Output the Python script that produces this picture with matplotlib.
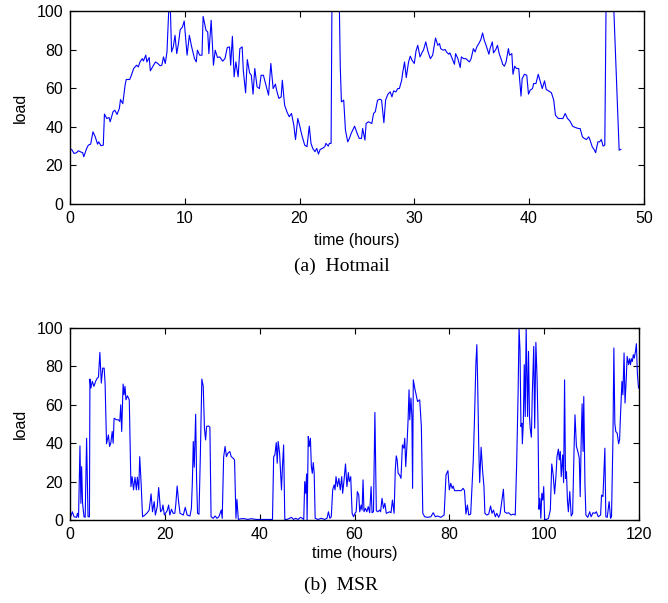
import matplotlib
matplotlib.use("Agg")
import matplotlib.pyplot as plt
import numpy as np

# Hotmail trace (hours, load)
hot_t = [0.14, 0.35, 0.58, 0.72, 0.92, 1.1, 1.2, 1.45, 1.6, 1.8, 2.0, 2.2, 2.4, 2.5, 2.7, 2.9,
         3.0, 3.2, 3.4, 3.5, 3.75, 3.9, 4.1, 4.3, 4.4, 4.6, 4.8, 4.9, 5.2, 5.35, 5.55, 5.8,
         5.95, 6.1, 6.3, 6.4, 6.6, 6.7, 6.9, 7.0, 7.2, 7.45, 7.65, 7.85, 8.0, 8.15, 8.3, 8.45,
         8.6, 8.75, 8.85, 9.0, 9.15, 9.3, 9.45, 9.6, 9.8, 9.95, 10.2, 10.4, 10.6, 10.85, 11.0,
         11.1, 11.3, 11.5, 11.6, 11.85, 12.0, 12.1, 12.3, 12.5, 12.65, 12.85, 13.05, 13.3,
         13.5, 13.7, 13.9, 14.0, 14.15, 14.3, 14.45, 14.65, 14.8, 15.0, 15.1, 15.3, 15.45,
         15.65, 15.8, 15.95, 16.1, 16.3, 16.5, 16.65, 16.85, 17.0, 17.15, 17.3, 17.5, 17.7,
         17.9, 18.0, 18.2, 18.4, 18.5, 18.7, 18.9, 19.1, 19.3, 19.5, 19.65, 19.85, 20.0, 20.2,
         20.45, 20.65, 20.85, 21.0, 21.15, 21.35, 21.5, 21.65, 21.8, 22.0, 22.2, 22.3, 22.5,
         22.6, 22.75, 22.85, 23.4, 23.55, 23.65, 23.85, 24.0, 24.2, 24.35, 24.5, 24.8, 25.0,
         25.2, 25.4, 25.5, 25.7, 25.8, 26.0, 26.3, 26.45, 26.6, 26.8, 27.0, 27.15, 27.35, 27.5,
         27.7, 27.9, 28.05, 28.2, 28.4, 28.55, 28.7, 28.9, 29.0, 29.15, 29.3, 29.5, 29.65, 29.8,
         30.0, 30.15, 30.3, 30.5, 30.7, 30.8, 31.0, 31.2, 31.4, 31.6, 31.85, 32.05, 32.2, 32.3,
         32.5, 32.7, 32.8, 33.0, 33.1, 33.3, 33.5, 33.6, 33.8, 34.0, 34.1, 34.3, 34.5, 34.8,
         34.95, 35.15, 35.3, 35.45, 35.65, 35.8, 35.95, 36.1, 36.3, 36.5, 36.6, 36.8, 36.9,
         37.1, 37.25, 37.4, 37.6, 37.7, 37.85, 38.0, 38.2, 38.3, 38.5, 38.6, 38.75, 38.9, 39.1,
         39.3, 39.4, 39.6, 39.8, 39.95, 40.1, 40.3, 40.4, 40.6, 40.8, 40.95, 41.15, 41.35, 41.5,
         41.7, 41.95, 42.15, 42.3, 42.55, 42.8, 42.95, 43.15, 43.35, 43.55, 43.8, 44.0, 44.3,
         44.45, 44.65, 44.8, 45.0, 45.2, 45.3, 45.5, 45.7, 45.8, 46.0, 46.15, 46.3, 46.45, 46.6,
         46.75, 47.2, 47.85, 48.0]
hot_load = [28.3, 26.2, 26.6, 27.6, 27.0, 26.6, 24.5, 28.8, 30.5, 31.0, 37.4, 34.8, 31.0, 32.2, 30.2, 30.5,
            46.6, 44.3, 44.8, 42.6, 47.8, 48.6, 46.4, 49.5, 54.1, 52.0, 61.6, 64.5, 64.5, 66.7, 70.2, 71.9,
            71.0, 73.6, 75.3, 74.1, 77.1, 73.6, 75.9, 69.0, 71.0, 73.6, 72.8, 71.6, 71.9, 76.2, 72.8, 78.8,
            100, 100, 78.8, 81.4, 87.4, 77.9, 83.1, 90.3, 91.7, 94.8, 77.1, 87.4, 81.4, 75.3, 73.6,
            79.7, 77.1, 77.1, 97.2, 90.0, 89.1, 77.9, 95.2, 71.9, 79.7, 75.9, 76.2, 74.0,
            75.3, 81.0, 81.4, 71.9, 86.9, 65.9, 73.6, 65.9, 80.5, 81.4, 69.3, 57.6, 74.8,
            67.9, 66.7, 56.9, 70.2, 60.7, 59.8, 66.7, 66.7, 63.3, 59.8, 56.4, 72.8, 59.8,
            62.1, 59.0, 54.7, 55.5, 64.1, 51.2, 47.8, 45.2, 46.9, 40.9, 33.4, 44.3, 40.9, 35.7,
            30.5, 29.7, 40.3, 31.4, 28.8, 27.1, 28.8, 25.9, 28.3, 28.8, 29.7, 31.4, 30.0,
            31.4, 31.4, 130, 130, 71.0, 52.9, 53.8, 38.3, 32.2, 34.0, 36.6, 40.3, 36.9,
            34.0, 34.0, 39.1, 33.1, 41.7, 42.6, 41.7, 46.9, 47.8, 53.8, 54.3, 53.8, 42.1, 53.8,
            56.9, 58.1, 55.5, 58.6, 58.1, 59.8, 59.8, 64.1, 68.4, 73.6, 65.5, 73.6, 76.6, 74.5,
            72.8, 79.3, 82.2, 76.2, 78.8, 79.7, 84.0, 78.8, 75.3, 77.1, 86.0, 82.2, 83.1, 80.5,
            79.7, 80.0, 78.8, 77.6, 78.3, 75.3, 72.4, 77.9, 75.3, 70.7, 76.2, 75.3, 75.3, 73.6,
            75.3, 80.5, 78.8, 81.4, 83.4, 85.2, 88.6, 84.8, 81.4, 77.6, 80.5, 84.0, 78.3,
            80.0, 82.2, 77.9, 74.5, 72.4, 71.4, 73.6, 80.5, 77.1, 77.9, 67.2, 71.4, 70.2, 70.2,
            55.9, 65.0, 67.2, 66.7, 56.9, 59.0, 59.8, 62.4, 62.4, 67.2, 64.1, 59.8, 63.8, 59.3,
            58.6, 57.6, 53.8, 46.0, 44.3, 44.3, 44.3, 46.9, 44.3, 43.1, 40.3, 39.7, 39.1,
            39.1, 34.8, 34.0, 33.4, 34.8, 33.4, 29.7, 27.9, 26.6, 32.2, 32.2, 33.4, 30.0, 30.5,
            130, 130, 27.9, 28.3]

# MSR trace (hours, load)
msr_t = [0.14, 0.5, 0.85, 1.4, 1.55, 1.8, 2.1, 2.3, 2.45, 2.65, 2.95, 3.2, 3.5, 3.8, 4.1, 4.2,
         4.4, 4.7, 5.05, 5.4, 5.75, 6.0, 6.3, 6.6, 6.9, 7.2, 7.4, 7.7, 8.1, 8.35, 8.6, 8.9, 9.1,
         9.3, 9.8, 10.2, 10.5, 10.7, 10.9, 11.2, 11.4, 11.6, 11.8, 12.1, 12.5, 12.85, 13.1, 13.4,
         13.7, 14.0, 14.2, 14.5, 14.7, 15.0, 15.3, 15.8, 16.3, 16.7, 17.1, 17.4, 17.75, 18.0,
         18.4, 18.7, 19.1, 19.4, 19.6, 19.9, 20.2, 20.5, 20.8, 21.05, 21.4, 21.75, 22.1, 22.3,
         22.6, 22.9, 23.2, 23.5, 23.9, 24.3, 24.7, 25.3, 25.6, 25.8, 26.0, 26.2, 26.5, 26.7,
         26.9, 27.2, 27.5, 27.8, 28.1, 28.35, 28.6, 28.8, 29.2, 29.5, 29.75, 30.2, 30.6, 31.0,
         31.4, 31.9, 32.1, 32.4, 32.7, 33.0, 33.3, 33.7, 34.0, 34.4, 34.7, 35.0, 35.2, 35.5,
         36.1, 36.8, 37.5, 38.2, 39.3, 40.0, 41.4, 42.7, 42.95, 43.2, 43.5, 43.7, 43.9, 44.2,
         44.6, 44.8, 45.05, 45.3, 45.75, 46.3, 46.7, 47.15, 47.6, 48.1, 48.6, 49.0, 49.3, 49.5,
         49.7, 49.9, 50.0, 50.25, 50.45, 50.7, 50.9, 51.1, 51.3, 51.5, 51.7, 52.3, 53.0, 53.7,
         54.2, 54.5, 54.8, 55.1, 55.4, 55.7, 55.9, 56.1, 56.4, 56.7, 57.0, 57.3, 57.5, 57.8,
         58.1, 58.4, 58.7, 58.9, 59.2, 59.5, 59.8, 60.1, 60.35, 60.6, 60.9, 61.1, 61.4, 61.6,
         61.8, 62.0, 62.3, 62.6, 62.9, 63.2, 63.5, 63.7, 64.0, 64.3, 64.6, 64.9, 65.3, 65.5,
         65.8, 66.1, 66.4, 66.7, 67.0, 67.4, 67.7, 68.0, 68.35, 68.6, 68.8, 69.0, 69.2, 69.5,
         69.8, 70.1, 70.4, 70.6, 70.8, 71.1, 71.3, 71.5, 71.65, 71.9, 72.1, 72.25, 72.4, 72.7,
         73.0, 73.3, 73.75, 74.1, 74.4, 74.8, 75.4, 76.1, 76.6, 77.05, 77.5, 78.2, 78.9, 79.3,
         79.7, 80.0, 80.3, 80.6, 80.8, 81.1, 81.75, 82.5, 82.9, 83.2, 83.5, 83.8, 84.1, 84.5,
         84.8, 85.05, 85.3, 85.6, 85.8, 86.0, 86.2, 86.4, 86.7, 87.0, 87.3, 87.5, 87.9, 88.3,
         88.7, 89.0, 89.3, 89.7, 90.0, 90.4, 90.7, 91.1, 91.4, 91.65, 92.1, 92.5, 93.0, 93.5,
         93.9, 94.2, 94.5, 94.7, 94.9, 95.1, 95.3, 95.4, 95.6, 95.8, 96.0, 96.2, 96.5, 96.7,
         96.9, 97.05, 97.3, 97.5, 97.8, 98.0, 98.25, 98.5, 98.7, 98.9, 99.1, 99.3, 99.5, 99.7,
         99.9, 100.1, 100.5, 100.9, 101.3, 101.6, 101.9, 102.2, 102.5, 102.7, 103.0, 103.2,
         103.4, 103.6, 103.9, 104.1, 104.3, 104.5, 104.7, 104.9, 105.1, 105.4, 105.7, 106.0,
         106.3, 106.5, 106.8, 107.1, 107.4, 107.6, 107.8, 108.0, 108.2, 108.35, 108.6, 108.8,
         109.2, 109.6, 109.9, 110.3, 110.7, 111.0, 111.4, 111.9, 112.1, 112.4, 112.8, 113.0,
         113.3, 113.7, 114.0, 114.2, 114.5, 114.7, 114.9, 115.1, 115.4, 115.7, 115.9, 116.1,
         116.4, 116.6, 116.85, 117.05, 117.3, 117.5, 117.8, 118.0, 118.2, 118.4, 118.6, 118.8,
         119.0, 119.25, 119.45, 119.65, 119.9]
msr_load = [1.7, 4.3, 1.7, 1.4, 3.5, 1.4, 38.6, 8.7, 27.8, 8.7, 1.7, 1.4, 42.6, 1.7, 1.7, 73.4,
            68.7, 72.2, 69.6, 72.2, 73.9, 74.4, 87.3, 71.3, 79.1, 79.1, 71.3, 39.7, 44.3, 38.3, 40.0, 46.1, 40.0,
            53.0, 52.2, 52.2, 51.3, 60.0, 46.1, 70.8, 65.2, 69.6, 62.6, 64.7, 62.6, 17.4, 22.6, 15.7,
            22.3, 15.7, 22.3, 15.7, 33.0, 19.1, 1.7, 2.6, 3.8, 5.2, 13.6, 4.3, 9.6, 2.6,
            7.0, 16.9, 4.3, 5.2, 7.8, 2.6, 3.8, 4.9, 7.8, 2.6, 5.6, 3.5, 3.5, 7.8,
            17.7, 9.6, 3.5, 3.1, 2.6, 6.6, 2.6, 2.1, 6.1, 19.5, 40.9, 27.5, 55.1, 20.9,
            3.5, 3.0, 34.8, 73.4, 69.6, 47.8, 41.7, 48.7, 49.0, 48.3, 1.7, 0.9, 2.1, 0.9,
            1.7, 5.2, 0.9, 32.7, 38.3, 33.0, 34.8, 35.7, 33.0, 32.2, 31.3, 0.9, 10.8, 0.3,
            0.7, 0.7, 0.3, 0.7, 0.3, 0.3, 0.3, 0.3, 33.0, 33.9, 40.3, 29.6, 40.9, 34.8,
            15.7, 27.8, 39.1, 0.3, 0.3, 0.9, 1.4, 0.3, 0.9, 0.3, 1.4, 0.9, 0.3, 20.0,
            13.9, 24.0, 0.0, 43.5, 38.3, 42.6, 27.8, 24.3, 29.9, 24.3, 0.9, 0.3, 0.9, 0.3,
            0.9, 4.3, 0.9, 1.7, 15.7, 18.3, 15.7, 22.6, 17.4, 21.7, 15.7, 22.6, 13.9, 20.9,
            29.2, 17.4, 24.7, 20.0, 22.6, 3.5, 1.7, 3.5, 4.3, 14.8, 13.0, 4.3, 7.8, 5.2,
            20.9, 4.3, 6.1, 4.3, 7.0, 3.8, 17.4, 3.8, 4.3, 56.0, 4.9, 4.3, 5.2, 4.3,
            11.3, 6.1, 8.7, 3.5, 3.8, 4.3, 3.8, 10.4, 3.5, 26.1, 33.4, 31.3, 24.3, 23.5,
            21.7, 39.1, 37.4, 42.6, 27.8, 40.9, 52.2, 67.8, 52.2, 63.5, 53.9, 16.5, 73.0, 68.7,
            65.2, 61.7, 62.6, 48.7, 3.5, 1.7, 1.4, 1.7, 3.8, 1.7, 2.1, 1.4, 2.6, 23.5,
            25.7, 15.7, 19.1, 16.5, 17.7, 15.3, 15.3, 15.3, 16.5, 15.3, 3.1, 7.8, 2.6, 3.1,
            19.1, 31.3, 52.2, 81.7, 91.3, 67.8, 38.3, 19.5, 37.9, 26.1, 17.4, 3.5, 2.6, 3.1,
            7.3, 3.5, 5.2, 1.7, 3.5, 1.4, 3.1, 10.4, 16.0, 4.3, 3.5, 3.8, 2.6, 3.1,
            2.6, 29.6, 66.1, 100, 88.7, 48.7, 50.4, 39.7, 50.4, 80.9, 53.9, 100, 53.9, 87.8,
            53.9, 47.8, 43.1, 66.1, 90.4, 47.8, 92.5, 73.9, 49.6, 5.6, 11.3, 0.9, 13.9, 10.4,
            17.4, 0.3, 0.3, 0.9, 5.2, 29.2, 23.5, 13.6, 23.5, 33.0, 36.9, 31.3,
            35.7, 22.6, 33.9, 19.5, 73.0, 21.7, 25.2, 10.4, 4.3, 14.8, 2.1, 3.5,
            36.5, 54.8, 38.3, 35.7, 32.2, 12.2, 40.9, 60.5, 35.7, 64.3, 18.3, 2.6,
            1.4, 4.3, 1.7, 3.8, 3.5, 4.3, 1.7, 2.6, 13.0, 12.2, 37.4, 1.7,
            1.4, 9.6, 0.9, 1.7, 41.7, 89.6, 50.4, 46.1, 45.2, 39.7, 41.7, 54.8,
            72.2, 65.2, 87.0, 60.9, 73.0, 85.2, 80.9, 84.0, 80.9, 84.0, 82.6, 86.1,
            84.3, 87.8, 91.8, 76.5, 68.7]

plt.rcParams["font.family"] = ["Liberation Sans", "DejaVu Sans"]
plt.rcParams["font.size"] = 11.5

fig = plt.figure(figsize=(6.68, 6.03), dpi=100)
ax1 = fig.add_axes([0.1048, 0.6617, 0.8590, 0.3201])
ax2 = fig.add_axes([0.1048, 0.1376, 0.8518, 0.3185])


def style(ax, xmax, xticks, labelpad):
    ax.set_xlim(0, xmax)
    ax.set_ylim(0, 100)
    ax.set_xticks(xticks)
    ax.set_yticks([0, 20, 40, 60, 80, 100])
    ax.tick_params(direction="in", top=True, right=True, length=4.5, width=0.8, pad=5)
    for s in ax.spines.values():
        s.set_linewidth(1.0)
    ax.set_ylabel("load", labelpad=6)
    ax.set_xlabel("time (hours)", labelpad=labelpad)


ax1.plot(hot_t, hot_load, color="#0000ff", lw=0.8)
style(ax1, 50, [0, 10, 20, 30, 40, 50], 5)
ax2.plot(msr_t, msr_load, color="#0000ff", lw=0.8)
style(ax2, 120, [0, 20, 40, 60, 80, 100, 120], 3)

serif = ["Liberation Serif", "DejaVu Serif"]
fig.text(0.511, 1 - 266 / 603, "(a)  Hotmail", ha="center", va="center", fontsize=14, family=serif)
fig.text(0.511, 1 - 585 / 603, "(b)  MSR", ha="center", va="center", fontsize=14, family=serif)

fig.savefig("out.png", dpi=100)
